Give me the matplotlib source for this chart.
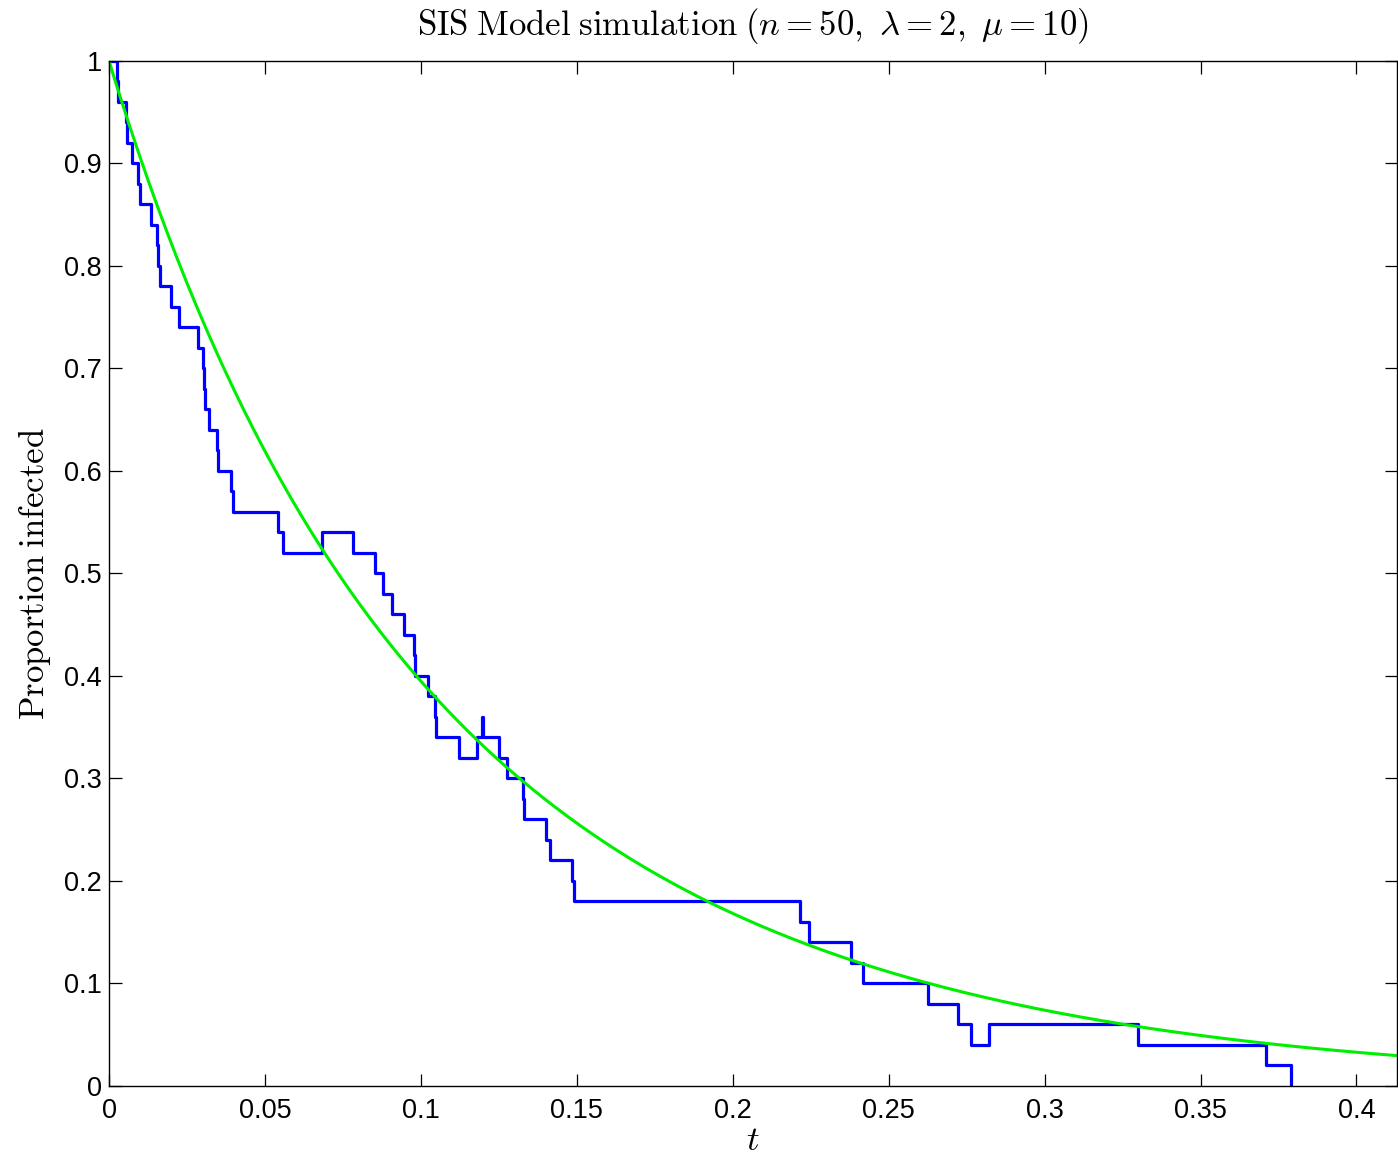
import numpy as np
import matplotlib
matplotlib.use("Agg")
import matplotlib.pyplot as plt

plt.rcParams['mathtext.fontset'] = 'cm'
plt.rcParams['font.family'] = ['Liberation Sans', 'DejaVu Sans']

### model parameters (from the title)
n = 50
lam = 2
mu = 10

### simulated path: jump times and number infected after each jump
jump_t = [0.0, 0.00256, 0.00272, 0.00545, 0.00567, 0.00747, 0.00939, 0.00994,
          0.01337, 0.01548, 0.01571, 0.01635, 0.01987, 0.02253, 0.02853, 0.03022,
          0.03054, 0.03087, 0.03215, 0.03452, 0.03484, 0.03910, 0.03984, 0.05407,
          0.05587, 0.06817, 0.07811, 0.08526, 0.08792, 0.09061, 0.09465, 0.09785,
          0.09808, 0.10215, 0.10449, 0.10481, 0.11218, 0.11804, 0.11965, 0.11981,
          0.12500, 0.12747, 0.13260, 0.13311, 0.13997, 0.14135, 0.14849, 0.14904,
          0.22170, 0.22436, 0.23782, 0.24176, 0.26256, 0.27237, 0.27628, 0.28215,
          0.33006, 0.37099, 0.37897]
infected = [50, 49, 48, 47, 46, 45, 44, 43, 42, 41, 40, 39, 38, 37, 36, 35,
            34, 33, 32, 31, 30, 29, 28, 27, 26, 27, 26, 25, 24, 23, 22, 21,
            20, 19, 18, 17, 16, 17, 18, 17, 16, 15, 14, 13, 12, 11, 10, 9,
            8, 7, 6, 5, 4, 3, 2, 3, 2, 1, 0]
prop = [k / n for k in infected]

x_ticks = [0, 0.05, 0.1, 0.15, 0.2, 0.25, 0.3, 0.35, 0.4]
x_labels = ['0', '0.05', '0.1', '0.15', '0.2', '0.25', '0.3', '0.35', '0.4']
y_ticks = [0, 0.1, 0.2, 0.3, 0.4, 0.5, 0.6, 0.7, 0.8, 0.9, 1]
y_labels = ['0', '0.1', '0.2', '0.3', '0.4', '0.5', '0.6', '0.7', '0.8', '0.9', '1']

t_max = 0.4131

# mean field solution di/dt = lam*i*(1-i) - mu*i, i(0)=1
t = np.linspace(0, t_max, 400)
K = 1 - mu / lam
r = lam - mu
i_det = K / (1 + (K / 1.0 - 1) * np.exp(-r * t))

fig = plt.figure(figsize=(13.98, 11.57), dpi=100)
ax = fig.add_axes([0.078, 0.0614, 0.9215, 0.8859])

ax.step(jump_t, prop, where='post', color='#0000ff', lw=2.3)
ax.plot(t, i_det, color='#00ee00', lw=2.2)

ax.set_xlim(0, t_max)
ax.set_ylim(0, 1)
ax.set_xticks(x_ticks)
ax.set_xticklabels(x_labels)
ax.set_yticks(y_ticks)
ax.set_yticklabels(y_labels)
ax.tick_params(direction='in', length=9, width=0.9, labelsize=19.5, top=True, right=True)
ax.tick_params(axis='x', pad=9)
ax.tick_params(axis='y', pad=5)
for s in ax.spines.values():
    s.set_linewidth(1.0)

ax.set_title(r'$\mathrm{SIS\;Model\;simulation}\;(n=50,\ \lambda=2,\ \mu=10)$', fontsize=25, pad=19)
ax.set_xlabel(r'$t$', fontsize=25, labelpad=0)
ax.set_ylabel(r'$\mathrm{Proportion\;infected}$', fontsize=25, labelpad=8)

fig.savefig('out.png', dpi=100)
